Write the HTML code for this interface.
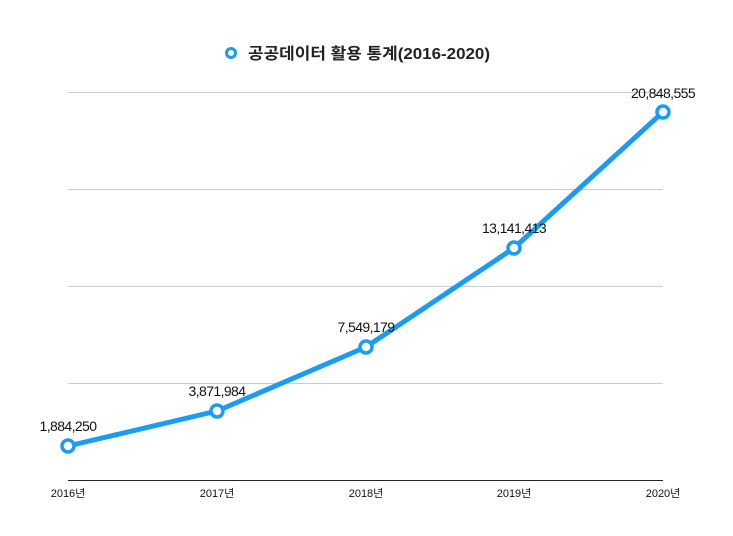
<!DOCTYPE html>
<html><head><meta charset="utf-8"><style>
body{margin:0;background:#fff;}
svg{display:block;font-family:"Liberation Sans","Noto Sans CJK KR",sans-serif;}
</style></head><body>
<svg width="733" height="536" viewBox="0 0 733 536">
<rect width="733" height="536" fill="#fff"/>
<g stroke="#cccccc" stroke-width="1">
<line x1="68" y1="92.5" x2="663" y2="92.5"/>
<line x1="68" y1="189.5" x2="663" y2="189.5"/>
<line x1="68" y1="286.5" x2="663" y2="286.5"/>
<line x1="68" y1="383.5" x2="663" y2="383.5"/>
</g>
<line x1="68" y1="480.5" x2="663" y2="480.5" stroke="#222" stroke-width="1"/>
<circle cx="231" cy="53" r="4.5" fill="#fff" stroke="#1a9cf5" stroke-width="3"/>
<text x="248" y="59" font-size="16" font-weight="bold" fill="#222" textLength="242" lengthAdjust="spacingAndGlyphs">공공데이터 활용 통계(2016-2020)</text>
<polyline points="68,446 217,411 366,347 514,248 663,112" fill="none" stroke="#1a9cf5" stroke-width="5" stroke-linejoin="round"/>
<g fill="#fff" stroke="#1a9cf5" stroke-width="3.5">
<circle cx="68" cy="446" r="6"/><circle cx="217" cy="411" r="6"/><circle cx="366" cy="347" r="6"/><circle cx="514" cy="248" r="6"/><circle cx="663" cy="112" r="6"/>
</g>
<g font-size="14" fill="#111" text-anchor="middle" letter-spacing="-0.6">
<text x="68" y="431">1,884,250</text>
<text x="217" y="396">3,871,984</text>
<text x="366" y="332">7,549,179</text>
<text x="514" y="233">13,141,413</text>
<text x="663" y="98">20,848,555</text>
</g>
<g font-size="11" fill="#111" text-anchor="middle">
<text x="68" y="497">2016년</text>
<text x="217" y="497">2017년</text>
<text x="366" y="497">2018년</text>
<text x="514" y="497">2019년</text>
<text x="663" y="497">2020년</text>
</g>
</svg>
</body></html>
